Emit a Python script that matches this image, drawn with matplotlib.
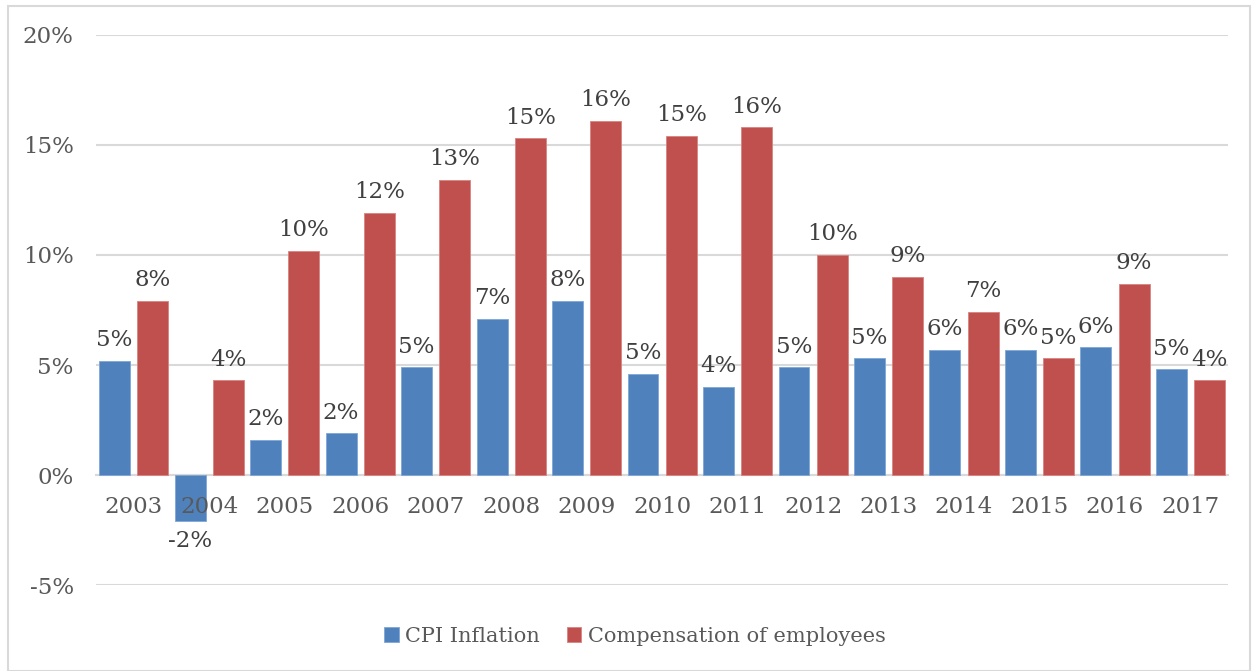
import matplotlib
matplotlib.use("Agg")
import matplotlib.pyplot as plt
import numpy as np
from matplotlib.patches import Rectangle

years = ["2003", "2004", "2005", "2006", "2007", "2008", "2009", "2010",
         "2011", "2012", "2013", "2014", "2015", "2016", "2017"]
cpi_inflation = [5.2, -2.1, 1.6, 1.9, 4.9, 7.1, 7.9, 4.6, 4.0, 4.9, 5.3, 5.7, 5.7, 5.8, 4.8]
compensation = [7.9, 4.3, 10.2, 11.9, 13.4, 15.3, 16.1, 15.4, 15.8, 10.0, 9.0, 7.4, 5.3, 8.7, 4.3]
y_ticks = [-5, 0, 5, 10, 15, 20]

BLUE = "#4F81BD"
RED = "#C0504D"
GRID = "#D9D9D9"
TEXT = "#595959"
LABEL = "#404040"
FS = 16.5

plt.rcParams["font.family"] = ["DejaVu Serif"]

fig = plt.figure(figsize=(12.52, 6.71), dpi=100)
ax = fig.add_axes([0.0767, 0.128, 0.9043, 0.820])

x = np.arange(len(years))
w = 0.41
off = 0.253
b1 = ax.bar(x - off, cpi_inflation, w, color=BLUE, edgecolor="#7EA6D6", linewidth=0.6,
            label="CPI Inflation", zorder=3)
b2 = ax.bar(x + off, compensation, w, color=RED, edgecolor="#D88380", linewidth=0.6,
            label="Compensation of employees", zorder=3)

for bars, vals in ((b1, cpi_inflation), (b2, compensation)):
    for rect, v in zip(bars, vals):
        cx = rect.get_x() + rect.get_width() / 2
        txt = f"{int(np.floor(abs(v) + 0.5)) * (1 if v >= 0 else -1)}%"
        if v >= 0:
            ax.annotate(txt, (cx, v), xytext=(0, 7), textcoords="offset points",
                        ha="center", va="bottom", fontsize=FS, color=LABEL, zorder=4)
        else:
            ax.annotate(txt, (cx, v), xytext=(0, -6), textcoords="offset points",
                        ha="center", va="top", fontsize=FS, color=LABEL, zorder=4)

ax.set_xlim(-0.5, len(years) - 0.5)
ax.set_ylim(-5, 20)
ax.set_yticks(y_ticks)
ax.set_yticklabels([f"{t}%" for t in y_ticks])
ax.yaxis.grid(True, color=GRID, linewidth=1.5)
ax.yaxis.set_zorder(0.5)
ax.xaxis.set_zorder(5)

ax.set_xticks(x)
ax.set_xticklabels(years)
ax.spines["bottom"].set_position(("data", 0))
ax.spines["bottom"].set_color(GRID)
ax.spines["bottom"].set_linewidth(1.5)
ax.spines["bottom"].set_zorder(1)
for s in ("top", "right", "left"):
    ax.spines[s].set_visible(False)
ax.tick_params(axis="x", length=0, pad=15, labelsize=FS, labelcolor=TEXT)
ax.tick_params(axis="y", length=0, pad=16, labelsize=FS, labelcolor=TEXT)

leg = fig.legend(handles=[b1, b2], loc="center", bbox_to_anchor=(0.507, 0.052), ncol=2,
                 frameon=False, fontsize=15, handlelength=0.7, handleheight=0.7,
                 handletextpad=0.3, columnspacing=1.3)
for t in leg.get_texts():
    t.set_color(TEXT)

fig.patches.append(Rectangle((0.0064, 0.0), 0.992, 0.991, transform=fig.transFigure,
                             fill=False, edgecolor=GRID, linewidth=1.5))

fig.savefig("out.png", dpi=100)
